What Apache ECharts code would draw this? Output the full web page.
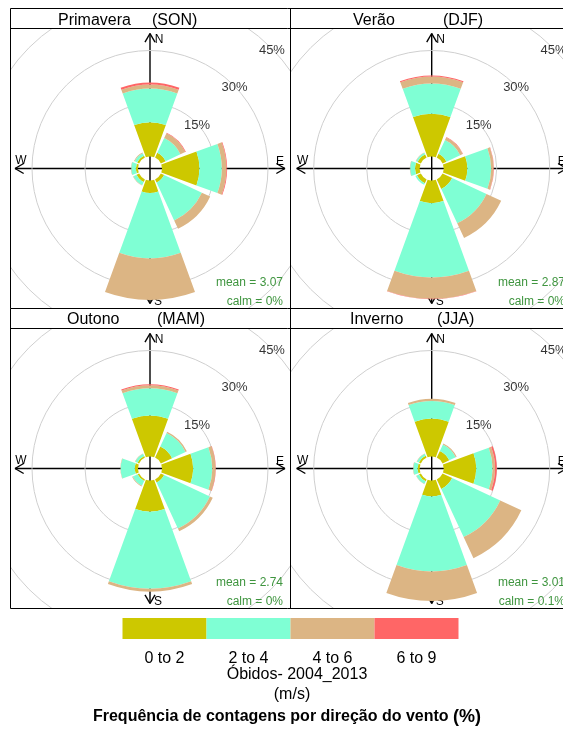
<!DOCTYPE html>
<html>
<head>
<meta charset="utf-8">
<script src="https://cdn.jsdelivr.net/npm/echarts/dist/echarts.min.js"></script>
<style>
  html, body { margin: 0; padding: 0; width: 563px; height: 733px; overflow: hidden; background: #fff; }
  .panel { position: absolute; }
  #frame { position: absolute; left: 0; top: 0; width: 563px; height: 733px; z-index: 5; pointer-events: none; }
</style>
</head>
<body>
<div id="p1" class="panel"></div>
<div id="p2" class="panel"></div>
<div id="p3" class="panel"></div>
<div id="p4" class="panel"></div>
<div id="frame"></div>
<script>
// Wind directions (8 sectors) and wind-speed classes (m/s)
const directions = ['N', 'NE', 'E', 'SE', 'S', 'SW', 'W', 'NW'];
const speedBins = ['0 to 2', '2 to 4', '4 to 6', '6 to 9'];
const binColors = ['#cdc800', '#7fffd4', '#dcb584', '#ff6666'];
const radialTicks = [15, 30, 45];

// Frequency (%) per direction, Primavera (SON)
const son_0_2 = [9.7, 1.5, 10.6, 1.0, 3.5, 0.8, 0.6, 0.6];
const son_2_4 = [9.5, 4.6, 6.3, 11.8, 18.5, 1.0, 1.3, 0.8];
const son_4_6 = [1.1, 1.5, 1.3, 2.6, 11.8, 0.1, 0.1, 0.2];
const son_6_9 = [0.6, 0.2, 0.2, 0.0, 0.0, 0.0, 0.0, 0.0];

// Verão (DJF)
const djf_0_2 = [12.1, 1.2, 6.7, 3.0, 6.4, 1.2, 1.3, 1.0];
const djf_2_4 = [8.5, 4.3, 6.7, 10.7, 21.0, 0.5, 1.4, 0.5];
const djf_4_6 = [2.0, 0.8, 0.7, 4.6, 6.1, 0.0, 0.1, 0.1];
const djf_6_9 = [0.3, 0.1, 0.1, 0.0, 0.1, 0.0, 0.0, 0.0];

// Outono (MAM)
const mam_0_2 = [11.6, 3.5, 8.8, 1.0, 8.8, 0.5, 0.9, 0.5];
const mam_2_4 = [7.7, 4.2, 5.4, 14.3, 21.8, 1.5, 4.0, 0.7];
const mam_4_6 = [0.8, 0.4, 0.9, 0.9, 0.8, 0.2, 0.1, 0.1];
const mam_6_9 = [0.3, 0.0, 0.1, 0.0, 0.0, 0.0, 0.0, 0.0];

// Inverno (JJA)
const jja_0_2 = [10.7, 2.1, 9.2, 3.0, 4.5, 0.6, 0.6, 0.6];
const jja_2_4 = [5.0, 2.0, 4.6, 15.0, 21.2, 0.8, 1.2, 0.6];
const jja_4_6 = [0.6, 0.3, 0.7, 6.6, 8.4, 0.1, 0.1, 0.1];
const jja_6_9 = [0.0, 0.0, 0.5, 0.0, 0.0, 0.0, 0.0, 0.0];

// Season summaries
const seasonNames = ['Primavera', 'Verão', 'Outono', 'Inverno'];
const seasonCodes = ['(SON)', '(DJF)', '(MAM)', '(JJA)'];
const meanSpeeds = ['3.07', '2.87', '2.74', '3.01'];
const calmShares = ['0%', '0%', '0%', '0.1%'];

const stationLabel = 'Óbidos- 2004_2013';
const unitLabel = '(m/s)';

const seasonData = [
  [son_0_2, son_2_4, son_4_6, son_6_9],
  [djf_0_2, djf_2_4, djf_4_6, djf_6_9],
  [mam_0_2, mam_2_4, mam_4_6, mam_6_9],
  [jja_0_2, jja_2_4, jja_4_6, jja_6_9]
];

const FONT = '"Liberation Sans", Arial, sans-serif';

// Panel boxes (inside the frame) and rose centres relative to each box
const panelBoxes = [
  { id: 'p1', left: 11,  top: 29,  w: 279, h: 279, cx: 139,   cy: 139.5 },
  { id: 'p2', left: 291, top: 29,  w: 281, h: 279, cx: 140.7, cy: 139.5 },
  { id: 'p3', left: 11,  top: 329, w: 279, h: 279, cx: 139,   cy: 139.5 },
  { id: 'p4', left: 291, top: 329, w: 281, h: 279, cx: 140.7, cy: 139.5 }
];

function arrowGraphics(cx, cy) {
  const L = 135, h = 10, a = Math.PI / 6;
  const els = [];
  const line = (x1, y1, x2, y2) => ({
    type: 'line', z: 0, silent: true,
    shape: { x1, y1, x2, y2 },
    style: { stroke: '#000', lineWidth: 1.4 }
  });
  // direction vectors: N, E, S, W
  const dirs = [[0, -1], [1, 0], [0, 1], [-1, 0]];
  dirs.forEach(([dx, dy]) => {
    const tx = cx + dx * L, ty = cy + dy * L;
    els.push(line(cx, cy, tx, ty));
    // two barbs of the arrowhead
    [a, -a].forEach(t => {
      const bx = -dx * Math.cos(t) + dy * Math.sin(t);
      const by = -dy * Math.cos(t) - dx * Math.sin(t);
      els.push(line(tx, ty, tx + bx * h, ty + by * h));
    });
  });
  const lab = (text, x, y) => ({
    type: 'text', z: 0, silent: true, x, y,
    style: { text, font: '12px ' + FONT, fill: '#000', align: 'center', verticalAlign: 'middle' }
  });
  els.push(lab('N', cx + 9, cy - 128.5));
  els.push(lab('E', cx + 130, cy - 7));
  els.push(lab('S', cx + 8, cy + 133));
  els.push(lab('W', cx - 129, cy - 7.5));
  return els;
}

panelBoxes.forEach((box, i) => {
  const el = document.getElementById(box.id);
  el.style.left = box.left + 'px';
  el.style.top = box.top + 'px';
  el.style.width = box.w + 'px';
  el.style.height = box.h + 'px';
  const chart = echarts.init(el, null, { renderer: 'canvas' });

  const bars = seasonData[i].map((vals, k) => ({
    name: speedBins[k],
    type: 'bar',
    coordinateSystem: 'polar',
    stack: 'speed',
    barCategoryGap: '11%',
    data: vals,
    itemStyle: { color: binColors[k] },
    silent: true,
    z: 2
  }));

  const textRight = box.w - 7;
  const statText = (text, y) => ({
    type: 'text', z: 10, silent: true, x: textRight, y,
    style: { text, font: '12px ' + FONT, fill: '#3f953f', align: 'right', verticalAlign: 'middle' }
  });

  chart.setOption({
    animation: false,
    polar: { center: [box.cx, box.cy], radius: [12, 171] },
    angleAxis: {
      type: 'category', data: directions, startAngle: 112.5, clockwise: true,
      axisLine: { show: false }, axisTick: { show: false },
      axisLabel: { show: false }, splitLine: { show: false }
    },
    radiusAxis: {
      type: 'value', min: 0, max: 45, interval: 15,
      axisLine: { show: false }, axisTick: { show: false }, axisLabel: { show: false },
      splitLine: { show: true, lineStyle: { color: ['rgba(0,0,0,0)', '#cfcfcf', '#cfcfcf', '#cfcfcf'], width: 1 } }
    },
    series: bars.concat([{
      type: 'scatter',
      coordinateSystem: 'polar',
      silent: true,
      z: 6,
      symbolSize: 1,
      itemStyle: { color: 'rgba(0,0,0,0)' },
      data: radialTicks.map(v => [v, 'NE']),
      label: {
        show: true, position: 'inside', offset: [1, 2.5],
        formatter: p => p.value[0] + '%',
        fontSize: 13, fontFamily: FONT, color: '#000'
      }
    }]),
    graphic: arrowGraphics(box.cx, box.cy).concat([
      statText('mean = ' + meanSpeeds[i], 253.5),
      statText('calm = ' + calmShares[i], 272.5)
    ])
  });
});

// Frame, strip titles, colour key and caption
const frame = echarts.init(document.getElementById('frame'), null, { renderer: 'canvas' });
const g = [];
const hLine = (y, x1, x2) => g.push({ type: 'line', silent: true, shape: { x1, y1: y, x2, y2: y }, style: { stroke: '#000', lineWidth: 1 } });
const vLine = (x, y1, y2) => g.push({ type: 'line', silent: true, shape: { x1: x, y1, x2: x, y2 }, style: { stroke: '#000', lineWidth: 1 } });
[8.5, 28.5, 308.5, 328.5, 608.5].forEach(y => hLine(y, 10.5, 600));
vLine(10.5, 8.5, 608.5);
vLine(290.5, 8.5, 608.5);

const stripPos = [
  { nx: 58,  cx: 152, y: 21 },
  { nx: 353, cx: 443, y: 21 },
  { nx: 67,  cx: 157, y: 319.5 },
  { nx: 350, cx: 437, y: 319.5 }
];
const txt = (text, x, y, size, align, extra) => g.push({
  type: 'text', silent: true, x, y,
  style: Object.assign({ text, font: size + 'px ' + FONT, fill: '#000', align: align, verticalAlign: 'middle' }, extra || {})
});
stripPos.forEach((s, i) => {
  txt(seasonNames[i], s.nx, s.y, 16, 'left');
  txt(seasonCodes[i], s.cx, s.y, 16, 'left');
});

// colour key
const keyX = 122.5, keyW = 84, keyY = 618, keyH = 21;
speedBins.forEach((lab, k) => {
  g.push({ type: 'rect', silent: true, shape: { x: keyX + k * keyW, y: keyY, width: keyW, height: keyH }, style: { fill: binColors[k] } });
  txt(lab, keyX + k * keyW + keyW / 2, 659, 16, 'center');
});
txt(stationLabel, 297, 675, 16, 'center');
txt(unitLabel, 292, 695, 16, 'center');
g.push({
  type: 'text', silent: true, x: 287, y: 717,
  style: {
    text: '{a|Frequência de contagens por direção do vento }{b|(%)}',
    align: 'center', verticalAlign: 'middle',
    rich: {
      a: { font: 'bold 16px ' + FONT, fill: '#000' },
      b: { font: 'bold 18px ' + FONT, fill: '#000' }
    }
  }
});

frame.setOption({ animation: false, graphic: g });
</script>
</body>
</html>
